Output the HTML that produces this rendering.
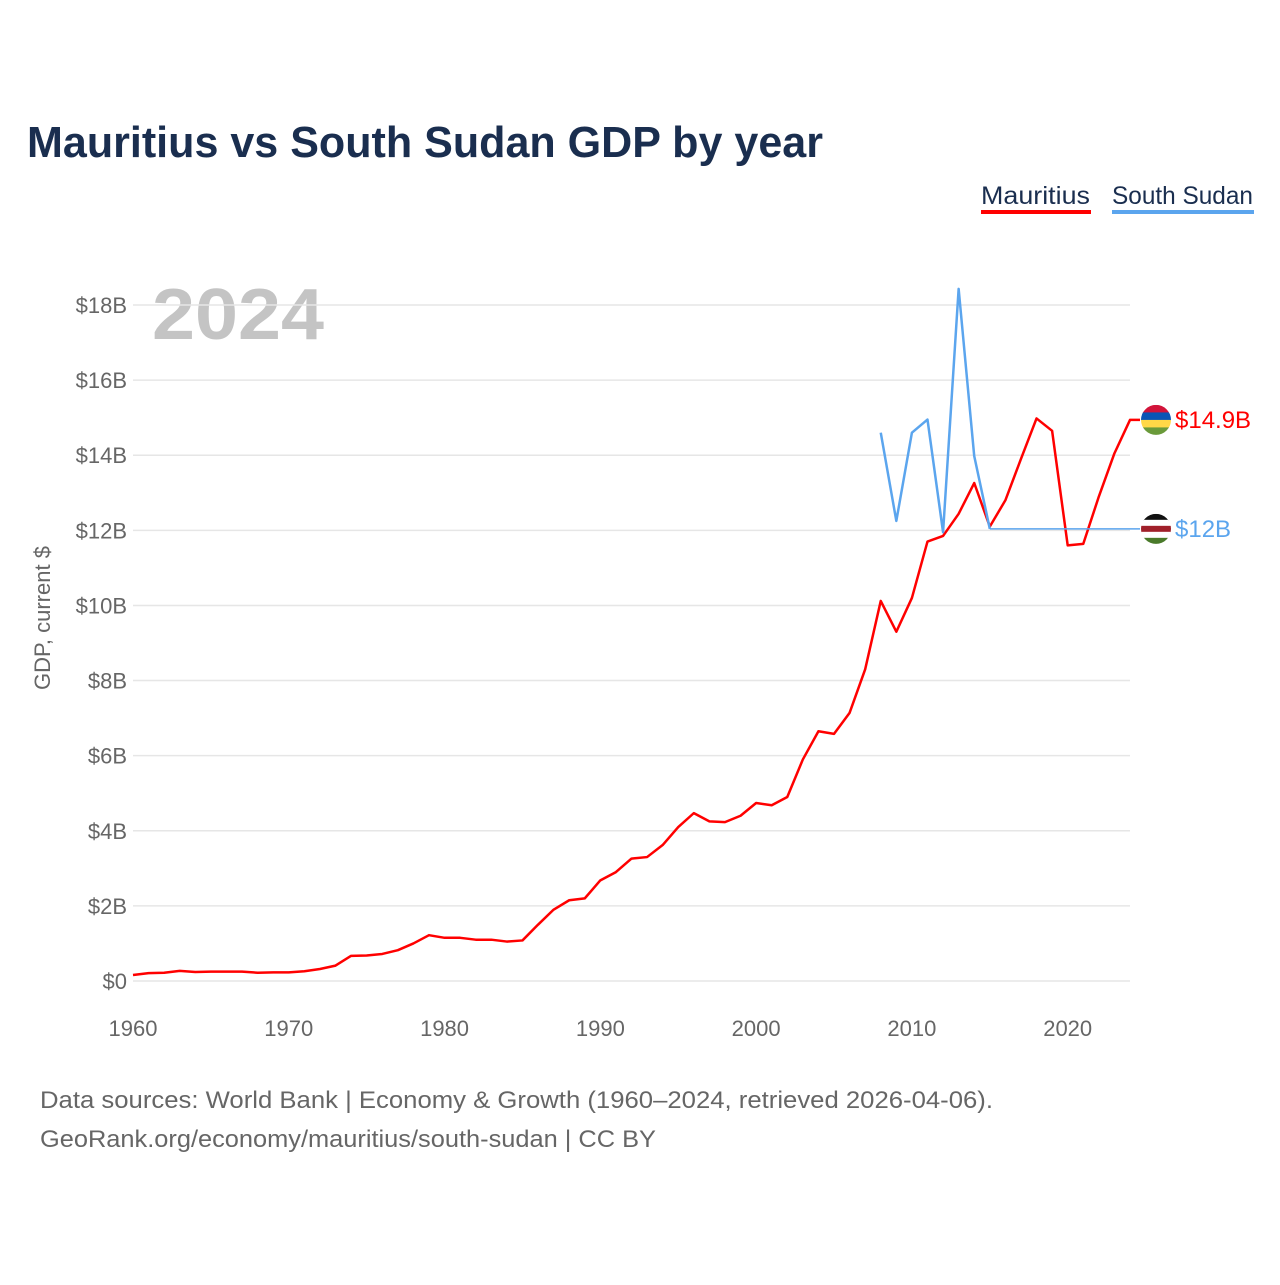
<!DOCTYPE html>
<html><head><meta charset="utf-8"><style>
body{margin:0;background:#fff;font-family:"Liberation Sans",sans-serif}
svg text{font-family:"Liberation Sans",sans-serif}
</style></head><body>
<svg width="1280" height="1280" viewBox="0 0 1280 1280">
<text x="27" y="157" font-size="44" font-weight="bold" fill="#1a2e4f" textLength="796" lengthAdjust="spacingAndGlyphs">Mauritius vs South Sudan GDP by year</text>
<g><text x="981" y="204" font-size="25" fill="#1a2e4f" textLength="109" lengthAdjust="spacingAndGlyphs">Mauritius</text><rect x="981" y="210" width="110" height="4" fill="#ff0000"/></g>
<g><text x="1112" y="204" font-size="25" fill="#1a2e4f" textLength="141" lengthAdjust="spacingAndGlyphs">South Sudan</text><rect x="1112" y="210" width="142" height="4" fill="#5ba5ee"/></g>
<text x="152" y="339" font-size="72" font-weight="bold" fill="#c4c4c4" textLength="172" lengthAdjust="spacingAndGlyphs">2024</text>
<g id="grid"></g><g id="yt"></g><g id="xt"></g><g id="series"></g>
<text transform="translate(50,618) rotate(-90)" text-anchor="middle" font-size="22" fill="#666">GDP, current $</text>
<text x="40" y="1108" font-size="24" fill="#666" textLength="953" lengthAdjust="spacingAndGlyphs">Data sources: World Bank | Economy &amp; Growth (1960–2024, retrieved 2026-04-06).</text>
<text x="40" y="1147" font-size="24" fill="#666" textLength="616" lengthAdjust="spacingAndGlyphs">GeoRank.org/economy/mauritius/south-sudan | CC BY</text>
</svg>
<script>
const years=[];for(let y=1960;y<=2024;y++)years.push(y);
const mauritius=[0.16,0.21,0.22,0.27,0.24,0.25,0.25,0.25,0.22,0.23,0.23,0.26,0.32,0.41,0.67,0.68,0.72,0.82,1.0,1.22,1.15,1.15,1.1,1.1,1.05,1.08,1.5,1.9,2.15,2.2,2.68,2.9,3.26,3.3,3.62,4.1,4.47,4.25,4.23,4.4,4.74,4.68,4.9,5.9,6.65,6.58,7.14,8.3,10.12,9.3,10.2,11.7,11.85,12.44,13.26,12.1,12.8,13.9,14.98,14.65,11.6,11.64,12.9,14.05,14.94];
const ssYears=[2008,2009,2010,2011,2012,2013,2014,2015];
const southSudan=[14.6,12.25,14.6,14.95,11.95,18.43,13.98,12.04];
const yTicks=[0,2,4,6,8,10,12,14,16,18];
const xTicks=[1960,1970,1980,1990,2000,2010,2020];
const NS='http://www.w3.org/2000/svg';
const X=y=>133+(y-1960)*(1130-133)/64;
const Y=v=>981-v*(981-305)/18;
function mk(t,a,p){const e=document.createElementNS(NS,t);for(const k in a)e.setAttribute(k,a[k]);document.getElementById(p).appendChild(e);return e;}
yTicks.forEach(v=>{
 const l=mk('line',{x1:133,x2:1130,y1:Y(v),y2:Y(v),stroke:'#e6e6e6','stroke-width':1.5},'grid');
 
 
 const t=mk('text',{x:127,y:Y(v)+8,'text-anchor':'end','font-size':22,fill:'#666'},'yt');
 t.textContent=v===0?'$0':'$'+v+'B';
 
 
});
xTicks.forEach(v=>{
 const t=mk('text',{x:X(v),y:1036,'text-anchor':'middle','font-size':22,fill:'#666'},'xt');
 t.textContent=v;
 
 
});
const mp=mk('polyline',{points:years.map((y,i)=>X(y)+','+Y(mauritius[i])).join(' ')+' '+(X(2024)+10)+','+Y(mauritius[mauritius.length-1]),fill:'none',stroke:'#ff0000','stroke-width':2.5,'stroke-linejoin':'round'},'series');


const sp=mk('polyline',{points:ssYears.map((y,i)=>X(y)+','+Y(southSudan[i])).join(' '),fill:'none',stroke:'#5ba5ee','stroke-width':2.5,'stroke-linejoin':'round'},'series');


const lastSS=southSudan[southSudan.length-1];
const sc=mk('line',{x1:X(ssYears[ssYears.length-1]),x2:X(2024)+10,y1:Y(lastSS),y2:Y(lastSS),stroke:'#5ba5ee','stroke-width':1.5},'series');


function flag(v,cols,label,color,name){
 const cy=Y(v),cx=1156;
 const g=mk('g',{},'series');
 
 
 const id='c'+name;
 const cp=document.createElementNS(NS,'clipPath');cp.setAttribute('id',id);
 const c=document.createElementNS(NS,'circle');c.setAttribute('cx',cx);c.setAttribute('cy',cy);c.setAttribute('r',15);cp.appendChild(c);g.appendChild(cp);
 const h=30/cols.length;
 cols.forEach((col,i)=>{const r=document.createElementNS(NS,'rect');r.setAttribute('x',cx-15);r.setAttribute('y',cy-15+i*h);r.setAttribute('width',30);r.setAttribute('height',h+0.5);r.setAttribute('fill',col);r.setAttribute('clip-path','url(#'+id+')');g.appendChild(r);});
 const t=document.createElementNS(NS,'text');t.setAttribute('x',1175);t.setAttribute('y',cy+8);t.setAttribute('font-size',24);t.setAttribute('fill',color);t.textContent=label;g.appendChild(t);
}
flag(mauritius[mauritius.length-1],['#d2143a','#0a55b5','#ffd847','#6a9a3a'],'$14.9B','#ff0000','mauritius-end-label');
flag(lastSS,['#111','#fff','#a0202a','#fff','#4a7a2a'],'$12B','#5ba5ee','south-sudan-end-label');
</script>
</body></html>
